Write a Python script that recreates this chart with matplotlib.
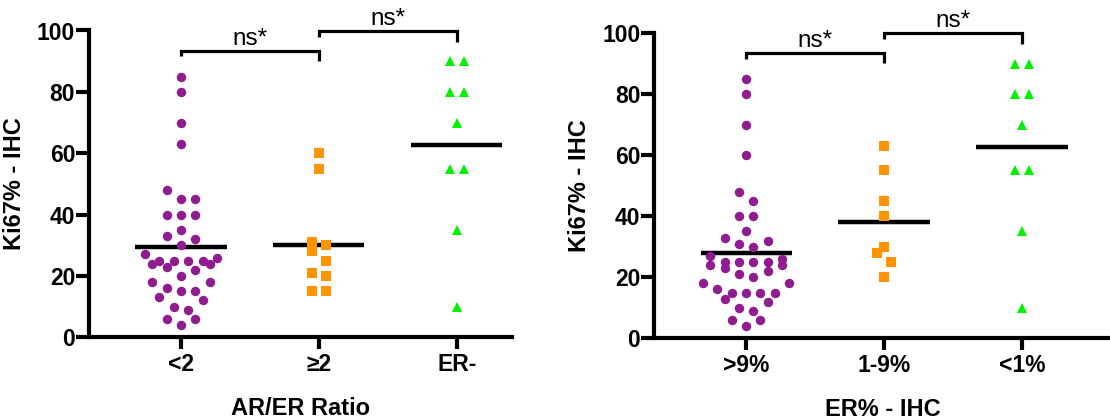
#!/usr/bin/env python3
import matplotlib
matplotlib.use("Agg")
import matplotlib.pyplot as plt
import numpy as np

plt.rcParams["font.family"] = ["Liberation Sans", "DejaVu Sans"]

# Ki67% values
ratio_categories = ["<2", "\u22652", "ER-"]
ratio_lt2 = [85, 80, 70, 63, 48, 45, 45, 40, 40, 40, 35, 33, 32, 30, 27, 26,
             25, 25, 25, 25, 24, 24, 23, 22, 20, 18, 18, 16, 15, 15, 13, 12,
             10, 9, 6, 6, 4]
ratio_ge2 = [60, 55, 31, 30, 28, 25, 21, 20, 15, 15]
er_negative = [90, 90, 80, 80, 70, 55, 55, 35, 10]

er_categories = [">9%", "1-9%", "<1%"]
er_gt9 = [85, 80, 70, 60, 48, 45, 40, 40, 35, 33, 32, 31, 30, 27, 26,
          25, 25, 25, 25, 24, 24, 23, 22, 21, 20, 18, 18, 16, 15, 15, 15, 15,
          13, 12, 10, 9, 6, 6, 4]
er_1to9 = [63, 55, 45, 40, 30, 28, 25, 20]
er_lt1 = [90, 90, 80, 80, 70, 55, 55, 35, 10]

sig_labels = ["ns*", "ns*"]

COLORS = ["#8F1D8F", "#FF9300", "#00F200"]
MARKERS = [("o", 6.8), ("s", 7.2), ("^", 6.6)]
FIG_W, FIG_H = 1110, 419
FS = 16.5

# bracket layout (data units): (x0, x1, left end, bar, right end)
BRACKETS = [(0, 1, 91.6, 93.4, 90.1), (1, 2, 97.9, 99.9, 96.4)]


def swarm_offsets(vals, h=4, step=0.104):
    # prism-like rows: values within h of a row start share a row
    vals = np.asarray(vals, dtype=float)
    order = np.argsort(vals, kind="stable")
    sv = vals[order]
    offs = np.zeros(len(vals))
    i = 0
    while i < len(sv):
        j = i
        while j < len(sv) and sv[j] <= sv[i] + h:
            j += 1
        m = j - i
        for k in range(m):
            if m % 2:
                o = ((k + 1) // 2) * (1 if k % 2 else -1)
            else:
                o = (k // 2 + 0.5) * (1 if k % 2 == 0 else -1)
            offs[order[i + k]] = o * step
        i = j
    return offs


def draw_panel(ax, groups, cats, xlabel, xmax):
    for idx, vals in enumerate(groups):
        mk, ms = MARKERS[idx]
        xs = idx + swarm_offsets(vals)
        ax.plot(xs, vals, linestyle="none", marker=mk, markersize=ms,
                color=COLORS[idx], markeredgewidth=0, zorder=4, clip_on=False)
        ax.hlines(np.mean(vals), idx - 0.33, idx + 0.33, color="black",
                  linewidth=3.2, zorder=3)

    for (x0, x1, yl, yb, yr), lab in zip(BRACKETS, sig_labels):
        ax.plot([x0, x0, x1, x1], [yl, yb, yb, yr], color="black", linewidth=2.3,
                clip_on=False, solid_joinstyle="miter", solid_capstyle="butt")
        ax.text((x0 + x1) / 2, yb + 2.0, lab, ha="center", va="baseline",
                fontsize=17.5)

    ax.set_xlim(-0.667, xmax)
    ax.set_ylim(0, 100)
    ax.set_yticks(range(0, 101, 20))
    ax.set_xticks(range(len(cats)))
    ax.set_xticklabels(cats)
    for s in ["top", "right"]:
        ax.spines[s].set_visible(False)
    for s in ["left", "bottom"]:
        ax.spines[s].set_linewidth(3)
    ax.tick_params(axis="y", direction="out", length=9.4, width=3, pad=0.5,
                   labelsize=FS)
    ax.tick_params(axis="x", direction="out", length=8.6, width=3, pad=3,
                   labelsize=FS)
    for t in ax.get_xticklabels() + ax.get_yticklabels():
        t.set_fontweight("bold")
    ax.set_ylabel("Ki67% - IHC", fontsize=FS + 0.5, fontweight="bold", labelpad=8)
    ax.set_xlabel(xlabel, fontsize=FS + 0.5, fontweight="bold", labelpad=15)


fig = plt.figure(figsize=(FIG_W / 100, FIG_H / 100), dpi=100)


def px_axes(left, right, y0, y100):
    return fig.add_axes([left / FIG_W, 1 - y0 / FIG_H, (right - left) / FIG_W,
                         (y0 - y100) / FIG_H])


ax1 = px_axes(89, 512, 337.3, 30.5)
draw_panel(ax1, [ratio_lt2, ratio_ge2, er_negative], ratio_categories,
           "AR/ER Ratio", 2.40)
ax2 = px_axes(654, 1112, 338.3, 33)
draw_panel(ax2, [er_gt9, er_1to9, er_lt1], er_categories, "ER% - IHC", 2.652)

plt.savefig("out.png", dpi=100)
